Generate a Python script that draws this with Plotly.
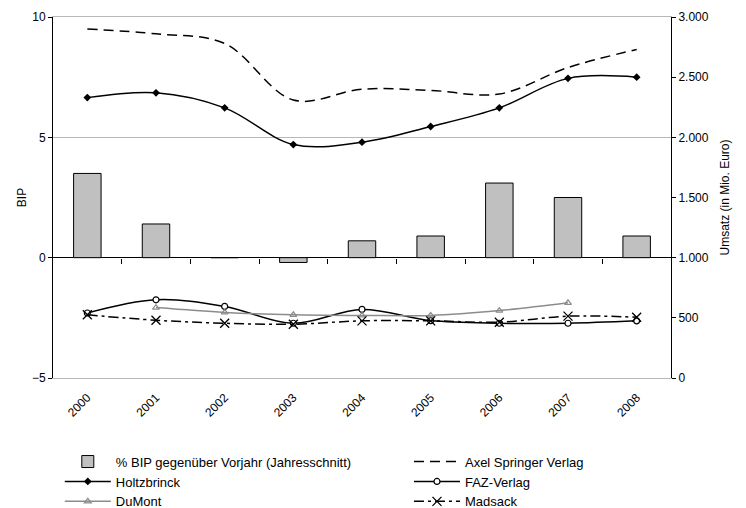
import plotly.graph_objects as go

years = ['2000', '2001', '2002', '2003', '2004', '2005', '2006', '2007', '2008']
bip = [3.5, 1.4, 0.0, -0.2, 0.7, 0.9, 3.1, 2.5, 0.9]
springer = [2900, 2860, 2780, 2310, 2400, 2390, 2360, 2580, 2730]
holtzbrinck = [2330, 2370, 2245, 1940, 1960, 2090, 2245, 2490, 2500]
faz = [540, 650, 595, 455, 570, 477, 455, 455, 475]
dumont = [None, 585, 545, 525, 520, 520, 560, 625, None]
madsack = [525, 480, 455, 447, 475, 475, 464, 514, 505]
boundary_ticks = [i + 0.5 for i in range(len(years) - 1)]

FONT = "Liberation Sans, Arial, sans-serif"

fig = go.Figure()

fig.add_trace(go.Bar(
    x=years, y=bip, name='% BIP gegenüber Vorjahr (Jahresschnitt)',
    marker=dict(color='#c0c0c0', line=dict(color='black', width=1)),
    width=0.4, yaxis='y', legend='legend'))

fig.add_trace(go.Scatter(
    x=years, y=springer, name='Axel Springer Verlag', mode='lines', yaxis='y2',
    line=dict(color='black', width=1.5, dash='10px,6px', shape='spline', smoothing=1),
    legend='legend2'))
fig.add_trace(go.Scatter(
    x=years, y=holtzbrinck, name='Holtzbrinck', mode='lines+markers', yaxis='y2',
    line=dict(color='black', width=1.5, shape='spline', smoothing=1),
    marker=dict(symbol='diamond', size=6, color='black'),
    legend='legend'))
fig.add_trace(go.Scatter(
    x=years, y=faz, name='FAZ-Verlag', mode='lines+markers', yaxis='y2',
    line=dict(color='black', width=1.5, shape='spline', smoothing=1),
    marker=dict(symbol='circle', size=6, color='white', line=dict(color='black', width=1.2)),
    legend='legend2'))
fig.add_trace(go.Scatter(
    x=years, y=dumont, name='DuMont', mode='lines+markers', yaxis='y2',
    line=dict(color='#8c8c8c', width=1.5, shape='spline', smoothing=1),
    marker=dict(symbol='triangle-up-open', size=6, color='#8c8c8c', line=dict(width=1.2)),
    legend='legend'))
fig.add_trace(go.Scatter(
    x=years, y=madsack, name='Madsack', mode='lines+markers', yaxis='y2',
    line=dict(color='black', width=1.5, dash='10px,4px,3px,4px', shape='spline', smoothing=1),
    marker=dict(symbol='x-thin', size=9, line=dict(color='black', width=1.3)),
    legend='legend2'))

# invisible helper trace so the zero-line tick axis is drawn
fig.add_trace(go.Scatter(
    x=list(range(len(years))), y=[0] * len(years), xaxis='x2', yaxis='y',
    mode='none', showlegend=False, hoverinfo='skip'))

fig.update_layout(
    width=746, height=508,
    margin=dict(l=53, r=75, t=17, b=130, autoexpand=False),
    paper_bgcolor='white', plot_bgcolor='white',
    font=dict(family=FONT, size=12, color='black'),
    separators=',.',
    showlegend=True,
    xaxis=dict(
        type='category', range=[-0.5, 8.5], tickangle=-45,
        showline=True, mirror=True, linecolor='#b8b8b8', linewidth=1,
        showgrid=False, zeroline=False,
        ticks='outside', ticklen=7, tickcolor='rgba(0,0,0,0)',
        tickfont=dict(size=12, color='black')),
    xaxis2=dict(
        overlaying='x', anchor='free', position=1/3, range=[-0.5, 8.5],
        tickvals=boundary_ticks, ticks='outside', ticklen=5, tickcolor='black',
        showticklabels=False, showline=False, showgrid=False, zeroline=False),
    yaxis=dict(
        range=[-5, 10], dtick=5, tick0=0, ticks='outside', ticklen=4, tickcolor='black',
        showline=True, linecolor='black', linewidth=1,
        showgrid=True, gridcolor='#b8b8b8', gridwidth=1,
        zeroline=True, zerolinecolor='black', zerolinewidth=1,
        tickfont=dict(size=12),
        title=dict(text='BIP', standoff=2, font=dict(size=12))),
    yaxis2=dict(
        range=[0, 3000], dtick=500, overlaying='y', side='right',
        ticks='outside', ticklen=4, tickcolor='black', tickformat=',d',
        showline=True, linecolor='black', linewidth=1,
        showgrid=False, zeroline=False,
        tickfont=dict(size=12),
        title=dict(text='Umsatz (in Mio. Euro)', standoff=12, font=dict(size=12))),
    legend=dict(
        x=0.011, y=-0.19, xanchor='left', yanchor='top', orientation='v',
        itemwidth=46, font=dict(size=13), bgcolor='rgba(0,0,0,0)', tracegroupgap=0),
    legend2=dict(
        x=0.576, y=-0.19, xanchor='left', yanchor='top', orientation='v',
        itemwidth=46, font=dict(size=13), bgcolor='rgba(0,0,0,0)', tracegroupgap=0),
)

fig.write_html("out.html", config={'displayModeBar': False},
               post_script="document.body.style.margin='0';")
